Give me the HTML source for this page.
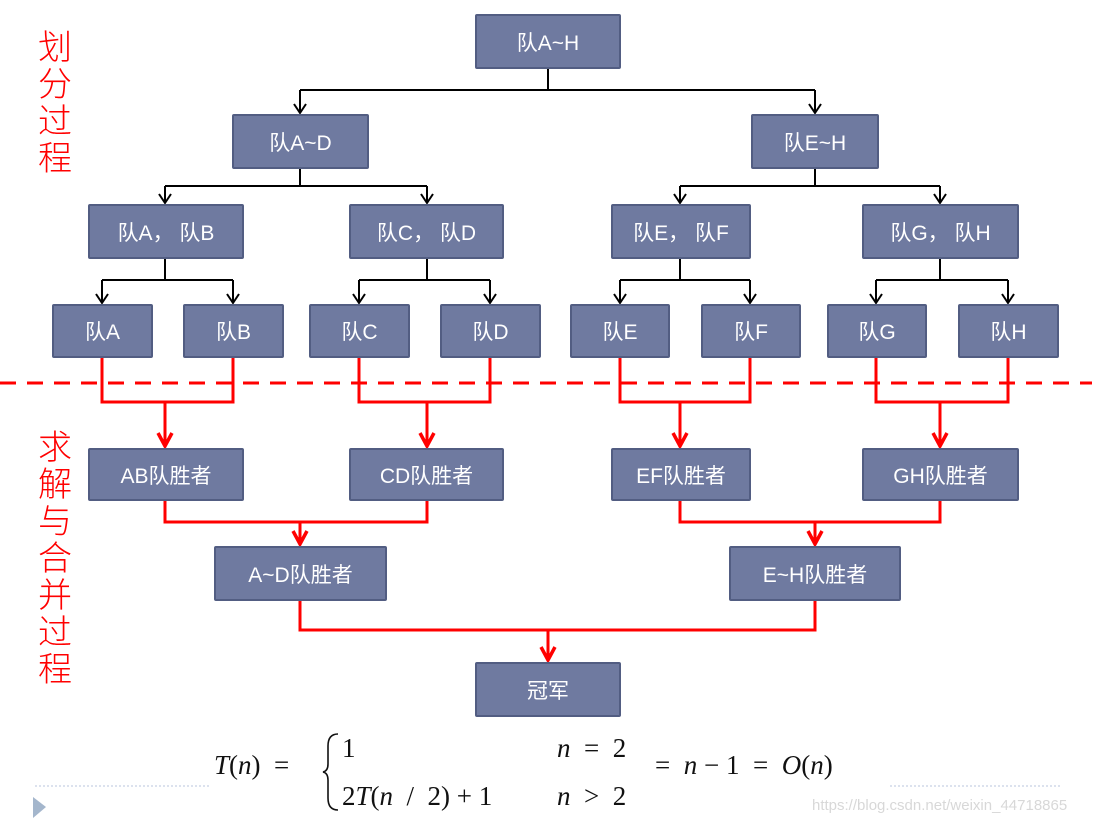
<!DOCTYPE html>
<html><head><meta charset="utf-8"><style>
body{margin:0;width:1095px;height:829px;background:#fff;position:relative;overflow:hidden;font-family:"Liberation Sans","Noto Sans CJK SC",sans-serif}
.b{position:absolute;background:#6f7aa0;border:2px solid #525d82;box-sizing:border-box;color:#fff;font-size:21px;display:flex;align-items:center;justify-content:center;border-radius:2px}
.r{position:absolute;color:#f00;font-family:"Noto Sans CJK SC",sans-serif;font-size:34px;line-height:37px;width:40px;text-align:center;font-weight:300}
.m{position:absolute;font-family:"Liberation Serif",serif;font-size:27px;color:#111;white-space:pre}
.i{font-style:italic}
</style></head><body>
<svg width="1095" height="829" style="position:absolute;left:0;top:0">
<g stroke="#000" stroke-width="2" fill="none">
<path d="M548 68V90M300 90H815M300 90V112M815 90V112"/>
<path d="M300 168V186M165 186H427M165 186V202M427 186V202"/>
<path d="M815 168V186M680 186H940M680 186V202M940 186V202"/>
<path d="M165 258V280M102 280H233M102 280V302M233 280V302"/>
<path d="M427 258V280M359 280H490M359 280V302M490 280V302"/>
<path d="M680 258V280M620 280H750M620 280V302M750 280V302"/>
<path d="M940 258V280M876 280H1008M876 280V302M1008 280V302"/>
<path d="M294 104L300 113L306 104M809 104L815 113L821 104M159 194L165 203L171 194M421 194L427 203L433 194M674 194L680 203L686 194M934 194L940 203L946 194M96 294L102 303L108 294M227 294L233 303L239 294M353 294L359 303L365 294M484 294L490 303L496 294M614 294L620 303L626 294M744 294L750 303L756 294M870 294L876 303L882 294M1002 294L1008 303L1014 294"/>
</g>
<line x1="0" y1="383" x2="1092" y2="383" stroke="#f00" stroke-width="3" stroke-dasharray="16 11"/>
<g stroke="#f00" stroke-width="3" fill="none">
<path d="M102 357V402H233V357M165 402V446"/>
<path d="M359 357V402H490V357M427 402V446"/>
<path d="M620 357V402H750V357M680 402V446"/>
<path d="M876 357V402H1008V357M940 402V446"/>
<path d="M165 500V522H427V500M300 522V544"/>
<path d="M680 500V522H940V500M815 522V544"/>
<path d="M300 600V630H815V600M548 630V660"/>
<path d="M158 433L165 446L172 433M420 433L427 446L434 433M673 433L680 446L687 433M933 433L940 446L947 433M293 531L300 544L307 531M808 531L815 544L822 531M541 647L548 660L555 647" stroke-width="3.5"/>
</g>
<g stroke="#b8c4dc" stroke-width="1" stroke-dasharray="2 2"><line x1="35" y1="786" x2="210" y2="786"/><line x1="890" y1="786" x2="1060" y2="786"/></g>
<polygon points="33,797 46,807 33,818" fill="#a4b6cc"/>
<path d="M338 734Q328 734 328 746V764Q328 771 323 772Q328 773 328 780V798Q328 810 338 810" stroke="#111" stroke-width="1.6" fill="none"/>
</svg>
<div class="r" style="left:35px;top:26px">划<br>分<br>过<br>程</div>
<div class="r" style="left:35px;top:426px">求<br>解<br>与<br>合<br>并<br>过<br>程</div>
<div class="b" style="left:475px;top:14px;width:146px;height:55px">队A~H</div>
<div class="b" style="left:232px;top:114px;width:137px;height:55px">队A~D</div>
<div class="b" style="left:751px;top:114px;width:128px;height:55px">队E~H</div>
<div class="b" style="left:88px;top:204px;width:156px;height:55px">队A，&nbsp;队B</div>
<div class="b" style="left:349px;top:204px;width:155px;height:55px">队C，&nbsp;队D</div>
<div class="b" style="left:611px;top:204px;width:140px;height:55px">队E，&nbsp;队F</div>
<div class="b" style="left:862px;top:204px;width:157px;height:55px">队G，&nbsp;队H</div>
<div class="b" style="left:52px;top:304px;width:101px;height:54px">队A</div>
<div class="b" style="left:183px;top:304px;width:101px;height:54px">队B</div>
<div class="b" style="left:309px;top:304px;width:101px;height:54px">队C</div>
<div class="b" style="left:440px;top:304px;width:101px;height:54px">队D</div>
<div class="b" style="left:570px;top:304px;width:100px;height:54px">队E</div>
<div class="b" style="left:701px;top:304px;width:100px;height:54px">队F</div>
<div class="b" style="left:827px;top:304px;width:100px;height:54px">队G</div>
<div class="b" style="left:958px;top:304px;width:101px;height:54px">队H</div>
<div class="b" style="left:88px;top:448px;width:156px;height:53px">AB队胜者</div>
<div class="b" style="left:349px;top:448px;width:155px;height:53px">CD队胜者</div>
<div class="b" style="left:611px;top:448px;width:140px;height:53px">EF队胜者</div>
<div class="b" style="left:862px;top:448px;width:157px;height:53px">GH队胜者</div>
<div class="b" style="left:214px;top:546px;width:173px;height:55px">A~D队胜者</div>
<div class="b" style="left:729px;top:546px;width:172px;height:55px">E~H队胜者</div>
<div class="b" style="left:475px;top:662px;width:146px;height:55px">冠军</div>
<div class="m" style="left:214px;top:750px"><span class="i">T</span>(<span class="i">n</span>)&nbsp;&nbsp;=</div>
<div class="m" style="left:342px;top:733px">1</div>
<div class="m" style="left:557px;top:733px"><span class="i">n</span>&nbsp;&nbsp;=&nbsp;&nbsp;2</div>
<div class="m" style="left:342px;top:781px">2<span class="i">T</span>(<span class="i">n</span>&nbsp;&nbsp;/&nbsp;&nbsp;2)&nbsp;+&nbsp;1</div>
<div class="m" style="left:557px;top:781px"><span class="i">n</span>&nbsp;&nbsp;&gt;&nbsp;&nbsp;2</div>
<div class="m" style="left:655px;top:750px">=&nbsp;&nbsp;<span class="i">n</span>&nbsp;−&nbsp;1&nbsp;&nbsp;=&nbsp;&nbsp;<span class="i">O</span>(<span class="i">n</span>)</div>
<div style="position:absolute;left:812px;top:797px;font-size:15px;color:#d8d8d8;font-family:'Liberation Sans Narrow','Liberation Sans',sans-serif">https://blog.csdn.net/weixin_44718865</div>
</body></html>
